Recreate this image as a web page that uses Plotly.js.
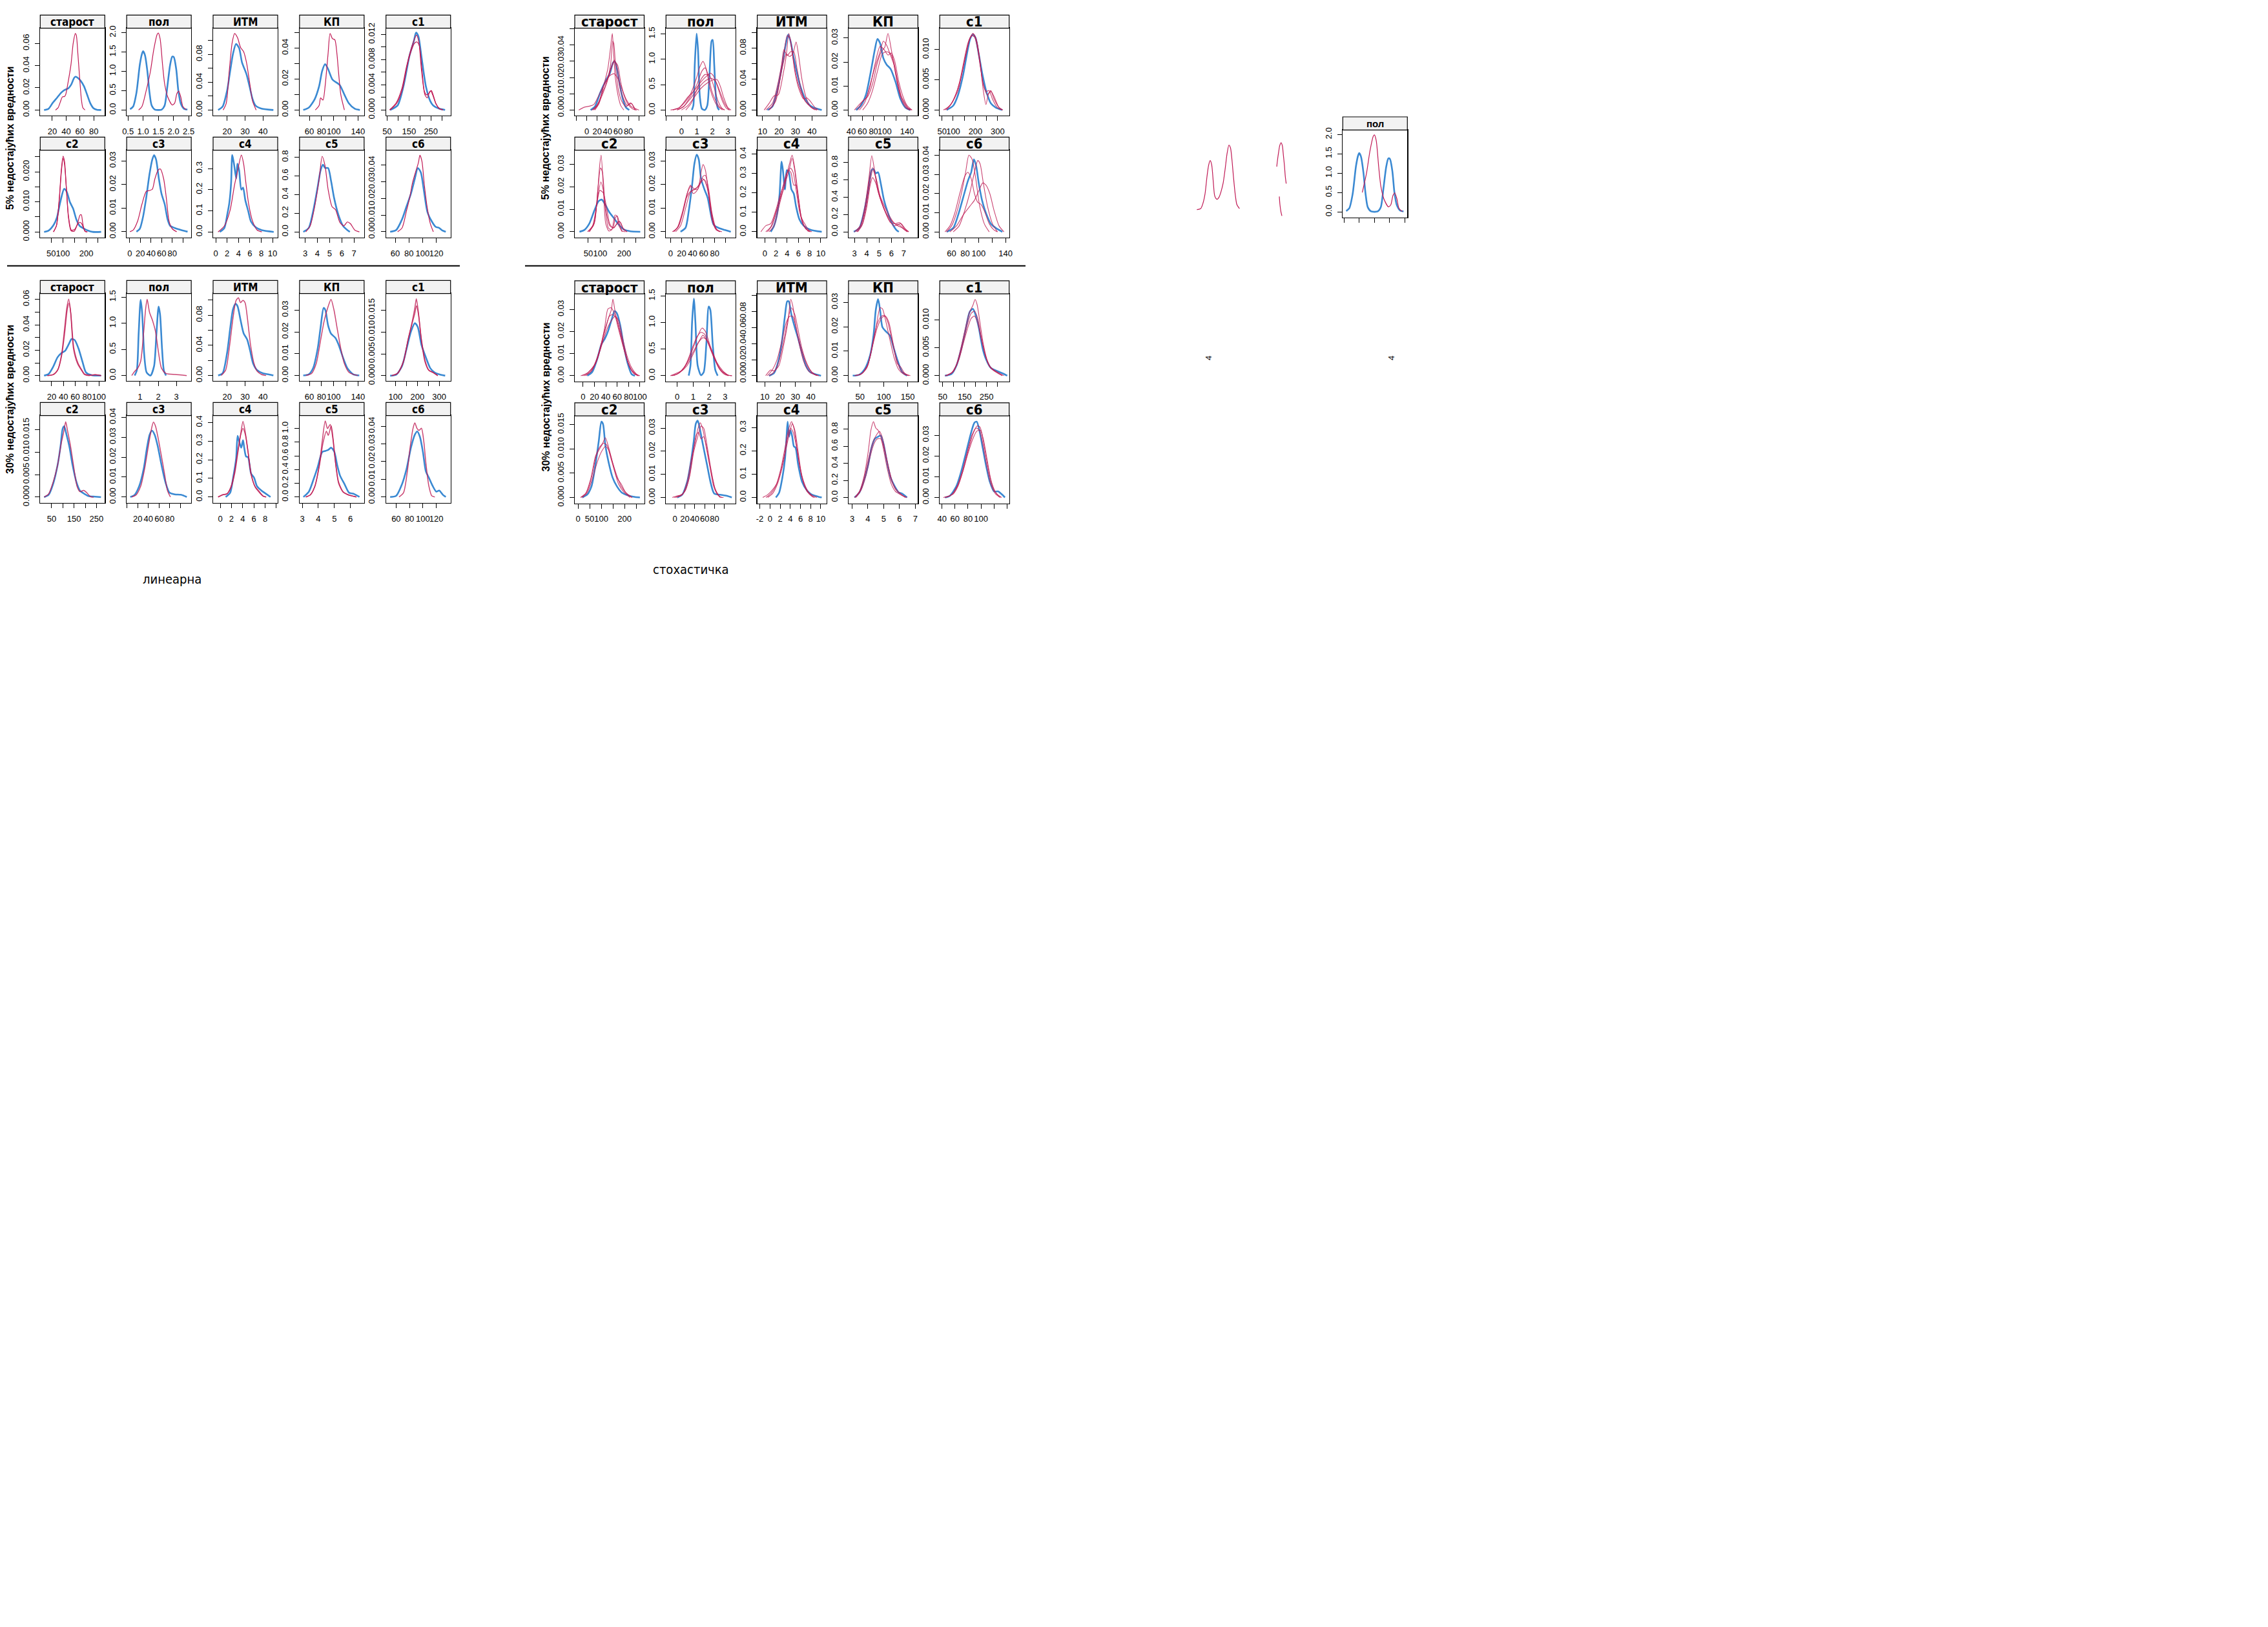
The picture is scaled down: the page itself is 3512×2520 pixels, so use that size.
<!DOCTYPE html>
<html><head><meta charset="utf-8">
<script src="https://cdn.plot.ly/plotly-3.0.1.min.js"></script>
<style>html,body{margin:0;padding:0;background:#fff;}#chart{width:3512px;height:2520px;}</style>
</head><body><div id="chart"></div>
<script>
// ===== panel names =====
const panelTitles = ['старост','пол','ИТМ','КП','c1','c2','c3','c4','c5','c6'];
const rowTitles = ['5% недостајућих вредности','30% недостајућих вредности'];
const methodNames = ['линеарна','стохастичка'];

// ===== LINEAR, 5% missing =====
const lin5_starost_blue=[[8.2,0],[14.4,0.001],[20.6,0.0064],[26.8,0.011],[33,0.0157],[37.7,0.018],[43.3,0.0196],[47,0.0225],[51.7,0.029],[53.9,0.030],[57,0.0288],[61,0.0263],[65.7,0.0215],[70.4,0.0137],[75,0.006],[79.7,0.0015],[84.4,0.0002],[90.6,0]];
const lin5_starost_red=[[[24.7,0],[28.4,0.002],[31.5,0.007],[34.6,0.0118],[37.7,0.0122],[39.3,0.0137],[42.4,0.0234],[47,0.0408],[50.2,0.060],[53.3,0.0689],[54.8,0.067],[57,0.0505],[59.5,0.0292],[62,0.0099],[64.2,0.002],[67.3,0]]];
const lin5_pol_blue=[[0.57,0.02],[0.67,0.09],[0.78,0.45],[0.89,1.17],[0.96,1.45],[1.0,1.52],[1.06,1.42],[1.14,1.0],[1.21,0.45],[1.28,0.12],[1.39,0.01],[1.5,0],[1.61,0.01],[1.71,0.12],[1.8,0.62],[1.89,1.17],[1.96,1.38],[2.01,1.37],[2.09,1.06],[2.16,0.5],[2.24,0.17],[2.35,0.03],[2.46,0.01]];
const lin5_pol_red=[[[0.85,0],[0.96,0.09],[1.1,0.5],[1.24,1.0],[1.35,1.56],[1.46,1.95],[1.5,1.99],[1.56,1.84],[1.64,1.17],[1.71,0.67],[1.81,0.34],[1.96,0.13],[2.04,0.18],[2.11,0.42],[2.17,0.49],[2.24,0.34],[2.31,0.09],[2.42,0.01]]];
const lin5_itm_blue=[[15,0],[17.5,0.005],[20,0.028],[21.7,0.056],[23.3,0.081],[25,0.095],[26.7,0.089],[28.3,0.0685],[30.8,0.0515],[32.5,0.034],[34.2,0.0158],[35.8,0.0065],[39.2,0.002],[45.8,0]];
const lin5_itm_red=[[[17.8,0],[19.5,0.0096],[21.2,0.056],[22.8,0.0964],[24.2,0.110],[25.8,0.104],[27.5,0.090],[29.2,0.084],[30.8,0.0685],[32.5,0.0406],[34.2,0.0127],[36.2,0]]];
const lin5_kp_blue=[[50,0],[59,0.0015],[68.8,0.007],[76.1,0.0154],[81,0.0251],[85.9,0.0296],[90.7,0.0265],[98,0.0196],[105.4,0.0175],[110.2,0.016],[117.6,0.0099],[124.9,0.0043],[134.6,0.0008],[143,0]];
const lin5_kp_red=[[[69.8,0],[76.1,0.003],[78.5,0.0078],[82.4,0.0064],[85.9,0.0154],[90.7,0.036],[94.1,0.0494],[98,0.046],[101.9,0.0453],[105.4,0.036],[107.8,0.0251],[111.7,0.0099],[117.6,0]]];
const lin5_c1_blue=[[63.6,0],[97.6,0.0007],[124.8,0.0038],[152,0.0086],[172.4,0.011],[182,0.0123],[192.8,0.0117],[206.4,0.0086],[226.8,0.0038],[247.2,0.0014],[260.8,0.0007],[288,0.0002],[315,0]];
const lin5_c1_red=[[[61,0],[91,0.0011],[118,0.0035],[138.4,0.0069],[158.8,0.0096],[172,0.011],[184,0.0119],[195,0.0108],[206.4,0.0065],[222.7,0.0024],[233.6,0.0019],[244.5,0.0029],[250,0.003],[258,0.0024],[271.7,0.0011],[288,0.0002],[304,0]],[[63,0],[93,0.001],[120,0.0033],[140,0.0068],[160,0.0094],[175,0.0106],[186,0.0108],[197,0.0102],[208,0.0068],[220,0.003],[230,0.0024],[240,0.0026],[252,0.0031],[262,0.0022],[274,0.0009],[290,0.0002],[306,0]]];
const lin5_c2_blue=[[19.6,0],[38,0.0004],[61,0.0024],[74.9,0.0049],[88.7,0.0099],[105.3,0.0143],[116.3,0.0134],[130.1,0.0099],[144,0.0077],[157.8,0.0041],[171.6,0.002],[190,0.0011],[208.4,0.0004],[226.8,0],[263.7,0]];
const lin5_c2_red=[[[59.2,0],[72.1,0.002],[84,0.0106],[93.3,0.0206],[100.7,0.0252],[107.1,0.0234],[114.5,0.0149],[123.7,0.0049],[134.7,0.0004],[148.5,0.0002],[162.4,0.0027],[173.4,0.0056],[179,0.0057],[185.4,0.0027],[194.6,0.0002],[203.8,0]],[[60,0],[73,0.0022],[85,0.011],[94,0.0205],[101,0.0245],[107,0.0225],[115,0.0145],[124,0.0052],[136,0.0006],[150,0.0008],[163,0.0025],[172,0.0032],[180,0.0028],[187,0.0015],[196,0.0002],[205,0]]];
const lin5_c3_blue=[[12.7,0],[18.9,0.0012],[25,0.0062],[31.1,0.0144],[37.3,0.0244],[42.6,0.0307],[45.9,0.0325],[49.6,0.0307],[54.9,0.0225],[59.8,0.0162],[66,0.0116],[71.3,0.0053],[76.2,0.0025],[84.4,0.0016],[96.7,0.0007],[109,0]];
const lin5_c3_red=[[[0.4,0],[6.6,0.0007],[14.8,0.0044],[23,0.0116],[31.1,0.0171],[37.3,0.0175],[42.6,0.018],[47.5,0.0225],[53.7,0.0262],[57.8,0.0266],[63.9,0.0225],[68.9,0.0144],[74.2,0.0044],[80.3,0.0012],[88.5,0]]];
const lin5_c4_blue=[[0.7,0],[1.5,0.018],[2,0.079],[2.4,0.14],[2.7,0.232],[2.9,0.364],[3.2,0.323],[3.6,0.252],[3.8,0.323],[4.1,0.293],[4.5,0.2],[4.8,0.21],[5.2,0.15],[5.7,0.1],[6.2,0.049],[7,0.023],[8.1,0.008],[10.2,0]];
const lin5_c4_red=[[[0.4,0],[1.5,0.028],[2.5,0.1],[3.3,0.222],[3.8,0.283],[4.5,0.364],[4.9,0.323],[5.3,0.232],[5.8,0.13],[6.5,0.049],[7.3,0.008],[8.1,0]]];
const lin5_c5_blue=[[2.85,0],[3.29,0.041],[3.66,0.225],[4.02,0.478],[4.27,0.662],[4.46,0.72],[4.63,0.685],[4.88,0.685],[5.12,0.547],[5.37,0.363],[5.73,0.179],[6.1,0.064],[6.46,0.018],[6.66,0]];
const lin5_c5_red=[[[3.05,0],[3.41,0.064],[3.78,0.271],[4.15,0.57],[4.39,0.811],[4.63,0.708],[4.88,0.455],[5.2,0.271],[5.49,0.237],[5.85,0.099],[6.17,0.064],[6.46,0.106],[6.71,0.087],[7.07,0.018],[7.44,0]]];
const lin5_c6_blue=[[52.6,0],[61.3,0.001],[70,0.0075],[76.5,0.0152],[83,0.0229],[88.7,0.0319],[93,0.0383],[97.4,0.0357],[101.7,0.0254],[107,0.012],[113.5,0.0062],[119.1,0.003],[124.3,0.0023],[128.7,0.0008],[133.9,0]];
const lin5_c6_red=[[[63.5,0],[70,0.0023],[76.5,0.0126],[81.7,0.0216],[85.2,0.0293],[89.6,0.0357],[93.9,0.0415],[96.1,0.046],[99.1,0.0422],[102.6,0.028],[107,0.0139],[111.3,0.0049],[115.7,0]]];

// ===== LINEAR, 30% missing =====
const lin30_starost_blue=[[7.3,0],[14.9,0.0012],[22.5,0.0068],[30.1,0.0144],[36.7,0.0178],[42.8,0.0195],[48.9,0.0246],[53.9,0.0288],[59,0.028],[65.6,0.0212],[72.2,0.011],[78.2,0.0025],[88.4,0.0003],[103.5,0]];
const lin30_starost_red=[[[12.4,0],[22.5,0.0008],[30.1,0.0042],[36.7,0.0161],[41.8,0.0364],[45.8,0.0534],[48.9,0.0602],[51.9,0.0517],[57,0.0212],[64,0.0093],[70.6,0.0042],[75.7,0.0008],[83.3,0],[93.4,0.0008],[103.5,0]],[[14,0],[24,0.001],[31,0.005],[37.5,0.017],[42.5,0.035],[46.5,0.052],[49.5,0.057],[52.5,0.049],[57.5,0.022],[64.5,0.01],[71,0.0045],[76,0.0012],[84,0.0004],[95,0.0006],[104,0]]];
const lin30_pol_blue=[[0.7,0],[0.82,0.1],[0.92,0.8],[1.03,1.45],[1.11,1.21],[1.23,0.39],[1.36,0.06],[1.57,0],[1.77,0.18],[1.9,0.8],[2.02,1.32],[2.1,1.17],[2.21,0.51],[2.31,0.1],[2.43,0]];
const lin30_pol_red=[[[0.54,0],[0.7,0.08],[0.87,0.14],[1.03,0.27],[1.2,0.84],[1.31,1.29],[1.39,1.46],[1.52,1.21],[1.69,1.05],[1.85,0.84],[2.02,0.43],[2.18,0.14],[2.43,0.04],[2.92,0.02],[3.57,0]]];
const lin30_itm_blue=[[15,0],[17.5,0.003],[20,0.03],[21.7,0.062],[23.3,0.088],[24.7,0.095],[25.8,0.092],[27.5,0.0735],[29.2,0.056],[31.2,0.0476],[32.8,0.0332],[34.5,0.0159],[36.7,0.0072],[40,0.0029],[43.3,0.0014],[45.8,0]];
const lin30_itm_red=[[[16.7,0],[19.2,0.0072],[21.2,0.036],[23.3,0.0764],[25,0.0995],[26.3,0.103],[27.5,0.0966],[28.8,0.0995],[30,0.0966],[31.3,0.0764],[33,0.0418],[35,0.0159],[36.7,0.0058],[39.2,0.0014],[41.7,0]]];
const lin30_kp_blue=[[50,0],[59,0.0005],[66.3,0.0034],[73.7,0.0123],[78.5,0.0221],[83.4,0.031],[86.3,0.03],[90.7,0.0231],[95.6,0.0192],[102.9,0.0172],[107.8,0.0143],[115.1,0.0084],[122.4,0.0034],[132.2,0.0005],[142,0]];
const lin30_kp_red=[[[54.1,0],[63.9,0.001],[71.2,0.0054],[78.5,0.0162],[84.4,0.0251],[90.7,0.0315],[95.6,0.0349],[100.5,0.03],[105.4,0.0221],[111.7,0.0123],[117.6,0.0054],[124.9,0.0015],[132.2,0.0005],[139.5,0]]];
const lin30_c1_blue=[[75.5,0],[102.7,0.0002],[129.9,0.0022],[150.3,0.0061],[170.7,0.0101],[188.4,0.012],[202,0.0111],[218.3,0.0071],[238.7,0.0042],[259.1,0.0017],[279.5,0.0007],[306.7,0.0002],[327,0]];
const lin30_c1_red=[[[82.3,0],[109.5,0.0005],[136.7,0.0032],[157.1,0.0081],[174.8,0.012],[188.4,0.0155],[195.2,0.0176],[204.7,0.0145],[218.3,0.0081],[234.6,0.0032],[252.3,0.0012],[272.7,0.0007],[293,0]],[[82,0],[110,0.0006],[137,0.0034],[157,0.0082],[175,0.0118],[188,0.0142],[196,0.016],[205,0.014],[218,0.0085],[235,0.0035],[252,0.0013],[273,0.0007],[293,0]]];
const lin30_c2_blue=[[16.7,0],[36.7,0.0005],[56.7,0.0029],[76.7,0.0071],[90,0.0114],[99.3,0.0152],[106,0.0157],[116.7,0.0138],[130,0.011],[143.3,0.0071],[160.7,0.0033],[176.7,0.0014],[196.7,0.0007],[216.7,0.0002],[243.3,0.0001],[270,0]];
const lin30_c2_red=[[[16.7,0],[36.7,0.0007],[56.7,0.0033],[76.7,0.0071],[92.7,0.0119],[103.3,0.0143],[112.7,0.0167],[120.7,0.0148],[134,0.0114],[147.3,0.0071],[163.3,0.0024],[176.7,0.0012],[192.7,0.0015],[206,0.001],[223.3,0.0001],[236.7,0]]];
const lin30_c3_blue=[[6.1,0],[14.4,0.0011],[22.8,0.0054],[31.1,0.014],[36.7,0.0237],[42.2,0.0312],[46.7,0.0333],[51.7,0.0312],[57.2,0.0258],[64.4,0.0161],[71.7,0.0075],[79.4,0.0022],[89.4,0.0013],[100.6,0.0011],[111.7,0]];
const lin30_c3_red=[[[8.9,0],[17.2,0.0011],[25.6,0.0054],[32.8,0.014],[39.4,0.0247],[45,0.0333],[49.4,0.0376],[53.3,0.0355],[57.8,0.0301],[64.4,0.0204],[70,0.0118],[75.6,0.0032],[81.1,0]]];
const lin30_c4_blue=[[0.96,0],[1.76,0.023],[2.29,0.103],[2.83,0.207],[3.09,0.328],[3.36,0.299],[3.73,0.264],[4.05,0.305],[4.27,0.264],[4.59,0.218],[4.96,0.213],[5.49,0.126],[6.03,0.103],[6.56,0.057],[7.36,0.034],[8.16,0.017],[8.96,0]];
const lin30_c4_red=[[[-0.37,0],[0.43,0.011],[1.23,0.017],[1.92,0.057],[2.56,0.138],[3.09,0.241],[3.63,0.333],[4.05,0.368],[4.48,0.333],[4.96,0.241],[5.49,0.126],[6.19,0.057],[6.83,0.034],[7.63,0.006],[8.16,0]],[[-0.4,0],[0.4,0.012],[1.2,0.018],[1.9,0.05],[2.6,0.13],[3.1,0.23],[3.6,0.33],[4.05,0.405],[4.5,0.34],[5.0,0.23],[5.5,0.12],[6.2,0.055],[6.8,0.03],[7.6,0.005],[8.2,0]]];
const lin30_c5_blue=[[3.07,0],[3.41,0.078],[3.69,0.25],[3.96,0.4375],[4.24,0.656],[4.43,0.672],[4.61,0.6875],[4.8,0.72],[5,0.656],[5.17,0.469],[5.35,0.3125],[5.63,0.1875],[5.91,0.0625],[6.19,0.047],[6.56,0]];
const lin30_c5_red=[[[3.22,0],[3.5,0.031],[3.78,0.156],[4.06,0.469],[4.24,0.8125],[4.43,1.11],[4.57,1.0],[4.74,1.06],[4.89,0.875],[5.07,0.5],[5.26,0.219],[5.54,0.078],[5.81,0.0375],[6.09,0.016],[6.37,0]],[[3.22,0],[3.5,0.03],[3.78,0.15],[4.06,0.45],[4.3,0.8],[4.5,0.96],[4.62,0.9],[4.8,1.04],[4.92,0.85],[5.08,0.48],[5.26,0.2],[5.54,0.07],[5.81,0.035],[6.09,0.015],[6.37,0]]];
const lin30_c6_blue=[[51.1,0],[60,0.0006],[68.9,0.0073],[75.6,0.0158],[82.2,0.0279],[88,0.0352],[91.6,0.037],[95.6,0.0339],[100,0.0255],[104.4,0.0145],[108.9,0.0109],[114.7,0.0061],[120,0.003],[124.4,0.0036],[129.8,0.0012],[134.2,0]];
const lin30_c6_red=[[[64.4,0],[71.1,0.0024],[76.4,0.0133],[80.9,0.0279],[85.3,0.0388],[88,0.0418],[91.1,0.0388],[94.2,0.0376],[97.8,0.0388],[101.3,0.0315],[104.4,0.0194],[108.9,0.0061],[113.3,0.0006],[117.8,0]]];

// ===== STOCHASTIC, 5% missing =====
const sto5_starost_blue=[[7.4,0],[15.7,0.0021],[26,0.0107],[36.3,0.0179],[44.5,0.0226],[50.7,0.0292],[54,0.0298],[58.1,0.0252],[63.1,0.016],[69.3,0.0067],[75.5,0.0015],[81.6,0]];
const sto5_starost_red=[
[[9.5,0],[15.7,0.0015],[23.9,0.0054],[32.2,0.0146],[40.4,0.0252],[45.8,0.0384],[49.1,0.047],[51.5,0.0358],[54.8,0.0199],[59.8,0.0094],[65.2,0.0028],[71.3,0]],
[[-15.3,0],[-4.9,0.0017],[5.4,0.0024],[13.6,0.0034],[23.9,0.0094],[34.2,0.016],[44.5,0.0212],[52.8,0.0223],[59,0.0199],[67.2,0.0133],[75.5,0.0067],[85.8,0.0021],[100.2,0]],
[[11.5,0],[19.8,0.0028],[30.1,0.0107],[38.4,0.0173],[45.8,0.0278],[49.9,0.0423],[52,0.041],[55.7,0.0252],[61,0.012],[67.2,0.0054],[75.5,0.0021],[83.7,0.0044],[88.7,0.0028],[94,0]],
[[15.7,0],[23.9,0.0041],[32.2,0.0146],[40.4,0.0199],[48.7,0.0278],[52.8,0.0307],[58.1,0.0265],[63.1,0.0146],[69.3,0.008],[77.5,0.0028],[85.8,0.0041],[92,0]],
[[13.6,0],[21.9,0.0034],[30.1,0.0094],[38.4,0.0166],[46.6,0.0252],[52.8,0.0298],[59,0.0278],[65.2,0.0173],[71.3,0.0094],[79.6,0.0034],[87.8,0.0008],[96.1,0]]];
const sto5_pol_blue=[[0.67,0],[0.77,0.089],[0.86,0.89],[0.98,1.508],[1.07,1.19],[1.19,0.258],[1.32,0.025],[1.51,0],[1.67,0.089],[1.81,0.68],[1.95,1.36],[2.02,1.38],[2.12,0.89],[2.23,0.258],[2.34,0.047],[2.44,0]];
const sto5_pol_red=[
[[-0.56,0],[-0.14,0.047],[0.28,0.174],[0.63,0.343],[0.98,0.64],[1.19,0.852],[1.39,0.958],[1.6,0.81],[1.81,0.47],[2.02,0.258],[2.3,0.089],[2.65,0]],
[[-0.28,0],[0.14,0.068],[0.56,0.258],[0.98,0.49],[1.32,0.767],[1.53,0.83],[1.74,0.68],[1.95,0.385],[2.23,0.174],[2.51,0.047],[2.79,0]],
[[-0.7,0],[-0.14,0.047],[0.42,0.258],[0.84,0.385],[1.26,0.555],[1.67,0.68],[1.88,0.725],[2.09,0.66],[2.37,0.428],[2.65,0.174],[2.93,0.025],[3.14,0]],
[[-0.28,0],[0.14,0.068],[0.56,0.216],[0.98,0.385],[1.32,0.513],[1.67,0.6],[1.98,0.62],[2.23,0.555],[2.51,0.343],[2.79,0.131],[3.07,0]],
[[0.28,0],[0.63,0.131],[0.98,0.385],[1.26,0.6],[1.53,0.7],[1.81,0.68],[2.09,0.47],[2.37,0.174],[2.65,0.025],[2.79,0]],
[[0,0],[0.42,0.089],[0.84,0.258],[1.26,0.428],[1.67,0.534],[2.02,0.59],[2.3,0.6],[2.51,0.47],[2.72,0.258],[3.0,0.047],[3.21,0]]];
const sto5_itm_blue=[[13,0],[16,0.0044],[19,0.0253],[22,0.0586],[24,0.0836],[25.6,0.0975],[27,0.0892],[29,0.067],[31,0.0475],[33,0.0308],[36,0.0142],[39,0.0058],[43,0.0017],[46,0]];
const sto5_itm_red=[
[[11,0],[14,0.0086],[17,0.0183],[19.6,0.0197],[22.4,0.0447],[24.4,0.0697],[26,0.0989],[27.6,0.0808],[29.6,0.0503],[32,0.028],[35,0.0142],[37,0.0156],[39,0.0114],[42,0.0031],[44,0]],
[[14,0],[17,0.0086],[20,0.0336],[22.4,0.0586],[24.4,0.0725],[26.4,0.0692],[28.4,0.0725],[30.4,0.0878],[32,0.0697],[34,0.0392],[36.4,0.0169],[39,0.0044],[42,0]],
[[12,0],[16,0.0086],[19,0.0308],[21.6,0.0586],[23,0.078],[25,0.0703],[27,0.0753],[29,0.0753],[31,0.053],[33.6,0.0253],[36,0.0114],[40,0.0031],[43,0]],
[[14,0],[18,0.0114],[21,0.0447],[23,0.0725],[25,0.0961],[26.6,0.0933],[28.4,0.0697],[30.4,0.0447],[33,0.0253],[36,0.0114],[40,0.0031],[43,0]]];
const sto5_kp_blue=[[48.8,0],[57.6,0.0019],[66.5,0.0064],[75.3,0.0162],[82.4,0.0252],[87.1,0.0296],[91.8,0.0278],[97.6,0.0216],[103.5,0.0189],[110.6,0.0171],[119.4,0.0117],[128.2,0.0046],[137.1,0.001],[145.9,0]];
const sto5_kp_red=[
[[51.8,0],[60.6,0.0037],[69.4,0.0055],[78.2,0.0108],[87.1,0.0198],[94.1,0.0243],[100,0.0261],[105.9,0.0319],[111.8,0.0252],[119.4,0.0153],[128.2,0.0064],[134.1,0.0037],[141.2,0.001],[148.8,0]],
[[45.9,0],[56.5,0.0028],[66.5,0.005],[75.3,0.0117],[84.1,0.0189],[91.8,0.0243],[97.6,0.0287],[103.5,0.027],[109.4,0.0234],[116.5,0.0189],[123.5,0.0099],[131.2,0.0037],[140,0.0005],[145.9,0]],
[[54.7,0],[63.5,0.0028],[74.1,0.0099],[82.4,0.0189],[91.8,0.0265],[98.8,0.0252],[105.9,0.0229],[111.8,0.0238],[117.6,0.0207],[125.3,0.0117],[132.9,0.0055],[140,0.0019],[148.8,0]],
[[60.6,0],[69.4,0.0028],[78.2,0.0081],[87.1,0.0162],[95.9,0.0234],[103.5,0.0243],[110.6,0.0234],[116.5,0.0198],[123.5,0.0117],[131.2,0.0046],[140,0.001],[145.9,0]]];
const sto5_c1_blue=[[70.6,0],[100,0.0007],[122,0.0025],[144,0.0057],[161.8,0.0093],[176.5,0.0118],[188.2,0.0125],[200,0.012],[214.7,0.0093],[232.4,0.0057],[250,0.0029],[269.1,0.0011],[291.2,0.0004],[320.6,0]];
const sto5_c1_red=[
[[55.9,0],[85.3,0.0007],[114.7,0.0029],[136.8,0.0057],[155.9,0.0089],[173.5,0.0116],[188.2,0.0127],[202.9,0.0118],[217.6,0.0089],[232.4,0.0047],[247.1,0.0031],[261.8,0.0032],[276.5,0.0018],[298.5,0.0004],[320.6,0]],
[[63.2,0],[92.6,0.0011],[122,0.0032],[141.2,0.0064],[158.8,0.0096],[176.5,0.012],[192.6,0.0125],[207.4,0.0111],[222,0.0075],[235.3,0.0032],[247.1,0.0009],[258.8,0.0027],[269.1,0.0032],[283.8,0.0018],[305.9,0.0004],[323.5,0]],
[[70.6,0],[100,0.0015],[126.5,0.0043],[147.1,0.0079],[166.2,0.0111],[182.4,0.0123],[195.6,0.0121],[210.3,0.01],[225,0.0064],[239.7,0.0036],[254.4,0.0025],[269.1,0.0031],[283.8,0.0022],[302.9,0.0006],[320.6,0]]];
const sto5_c2_blue=[[13.2,0],[33.9,0.0008],[54.5,0.0036],[75.2,0.0093],[93.1,0.0136],[106.9,0.0143],[120.7,0.0122],[137.2,0.0089],[157.9,0.006],[178.5,0.0031],[199.2,0.001],[226.7,0.0002],[268,0]];
const sto5_c2_red=[
[[54.5,0],[75.2,0.0036],[89,0.017],[98.6,0.0303],[104.1,0.0341],[112.4,0.0217],[123.4,0.0036],[137.2,0.0003],[153.7,0.0017],[164.7,0.0065],[171.6,0.007],[181.3,0.0036],[192.3,0.0003],[206,0]],
[[47.7,0],[71.1,0.0027],[89,0.015],[102.8,0.0222],[112.4,0.0189],[126.2,0.0084],[139.9,0.0027],[157.9,0.0017],[175.8,0.0046],[185.4,0.0041],[199.2,0.0008],[213,0]],
[[47.7,0],[68.3,0.0027],[85.9,0.0122],[98.6,0.0184],[112.4,0.0174],[126.2,0.0112],[139.9,0.0036],[153.7,0.0017],[167.5,0.0031],[181.3,0.0046],[195,0.0017],[213,0]],
[[54.5,0],[76.6,0.0046],[90.4,0.0189],[101.4,0.0284],[109.6,0.0265],[120.7,0.0112],[134.4,0.0017],[148.2,0.0008],[162,0.0074],[170.3,0.007],[178.5,0.0027],[192.3,0]]];
const sto5_c3_blue=[[18,0],[27,0.0016],[33,0.0089],[39,0.0198],[43.2,0.0289],[47.4,0.0327],[51.1,0.0307],[55.3,0.0225],[61.3,0.018],[67.3,0.0144],[73.3,0.0071],[78.1,0.003],[87.1,0.0016],[99.1,0.0007],[109.3,0]];
const sto5_c3_red=[
[[3,0],[12,0.0016],[21,0.008],[30,0.0162],[37.2,0.0194],[43.2,0.018],[49.2,0.018],[55.3,0.0253],[58.9,0.0285],[63.1,0.0262],[69.1,0.0162],[75.1,0.0053],[82.9,0.0007],[90.1,0]],
[[6,0],[15,0.0025],[24,0.0098],[31.2,0.0171],[36,0.0198],[40.8,0.0162],[46.8,0.0171],[52.9,0.0198],[58.9,0.0235],[63.1,0.0239],[69.1,0.018],[75.1,0.008],[82.9,0.0012],[90.1,0]],
[[4.8,0],[13.2,0.0021],[21,0.0071],[28.8,0.0144],[36,0.0171],[45,0.018],[54.1,0.0207],[60.1,0.0221],[66.1,0.0189],[72.1,0.0107],[78.1,0.0035],[85.3,0.0007],[93.1,0]],
[[9,0],[18,0.0025],[27,0.0098],[34.8,0.0162],[42,0.018],[49.2,0.0189],[57.1,0.0225],[63.1,0.0216],[69.1,0.0162],[75.1,0.0071],[81.1,0.0016],[88.9,0]]];
const sto5_c4_blue=[[1.06,0],[1.65,0.031],[2.24,0.097],[2.65,0.196],[3,0.361],[3.24,0.317],[3.59,0.218],[3.94,0.317],[4.29,0.306],[4.76,0.218],[5.18,0.196],[5.59,0.13],[6.18,0.064],[6.94,0.031],[8.12,0.011],[10.18,0]];
const sto5_c4_red=[
[[-0.7,0],[0.18,0.031],[1.06,0.042],[1.94,0.108],[2.82,0.196],[3.71,0.273],[4.41,0.35],[4.88,0.394],[5.35,0.328],[5.94,0.196],[6.53,0.075],[7.24,0.02],[8.12,0]],
[[0.18,0],[1.06,0.025],[1.94,0.097],[2.82,0.174],[3.59,0.24],[4.18,0.317],[4.65,0.306],[5.18,0.24],[5.59,0.24],[6.06,0.163],[6.53,0.075],[7.12,0.042],[7.82,0.009],[8.41,0]],
[[0.47,0],[1.35,0.036],[2.24,0.119],[3.12,0.218],[3.82,0.295],[4.41,0.328],[4.88,0.378],[5.35,0.317],[5.94,0.174],[6.65,0.053],[7.35,0.014],[8.12,0]],
[[0.76,0],[1.65,0.031],[2.53,0.13],[3.41,0.229],[4,0.284],[4.59,0.328],[5.06,0.306],[5.59,0.218],[6.18,0.108],[6.94,0.036],[7.82,0]]];
const sto5_c5_blue=[[2.95,0],[3.4,0.045],[3.8,0.243],[4.12,0.49],[4.39,0.713],[4.55,0.725],[4.73,0.676],[4.92,0.688],[5.13,0.564],[5.4,0.366],[5.72,0.218],[6.07,0.094],[6.41,0.02],[6.6,0]];
const sto5_c5_red=[
[[3,0],[3.48,0.069],[3.85,0.292],[4.17,0.614],[4.41,0.881],[4.6,0.738],[4.87,0.49],[5.19,0.342],[5.53,0.218],[5.93,0.106],[6.33,0.094],[6.68,0.106],[7,0.045],[7.4,0]],
[[3.13,0],[3.53,0.082],[3.93,0.317],[4.25,0.639],[4.47,0.743],[4.73,0.639],[5,0.441],[5.35,0.292],[5.67,0.193],[6.07,0.119],[6.41,0.082],[6.79,0.094],[7.13,0.032],[7.4,0]],
[[3.27,0],[3.67,0.094],[4.01,0.292],[4.28,0.54],[4.47,0.626],[4.73,0.564],[5.08,0.391],[5.4,0.267],[5.8,0.144],[6.2,0.069],[6.6,0.082],[7,0.032],[7.32,0]],
[[3.21,0],[3.59,0.069],[3.96,0.292],[4.28,0.589],[4.49,0.713],[4.76,0.614],[5.08,0.416],[5.45,0.292],[5.8,0.193],[6.2,0.106],[6.52,0.069],[6.87,0.045],[7.27,0]]];
const sto5_c6_blue=[[52.7,0],[62.4,0.002],[69.7,0.0087],[77,0.0177],[84.2,0.0266],[89.1,0.0311],[93,0.0378],[96.4,0.0344],[100.2,0.0255],[105.1,0.0165],[110.9,0.0098],[118.2,0.0042],[125.5,0.002],[135.2,0]];
const sto5_c6_red=[
[[52.7,0],[60,0.0031],[67.3,0.0098],[74.5,0.0199],[80.8,0.0311],[85.7,0.04],[90.5,0.0378],[95.4,0.0288],[101.2,0.0143],[108.5,0.0042],[115.8,0]],
[[62.4,0],[71.2,0.0031],[79.4,0.011],[86.7,0.0199],[93.9,0.0311],[98.8,0.0372],[102.2,0.0355],[107,0.0255],[113.3,0.0132],[120.6,0.0042],[127.9,0]],
[[50.3,0],[57.6,0.0031],[64.8,0.0098],[72.1,0.0199],[79.4,0.0288],[84.2,0.0311],[89.1,0.0277],[93.9,0.0199],[98.8,0.0154],[103.6,0.0143],[108.5,0.011],[115.8,0.0042],[123,0.0009],[127.9,0]],
[[57.6,0],[67.3,0.0031],[77,0.0087],[86.7,0.0132],[93.9,0.0165],[101.2,0.0221],[106.1,0.0255],[110.9,0.0244],[116.7,0.0199],[123,0.011],[130.3,0.0031],[137.6,0]]];

// ===== STOCHASTIC, 30% missing =====
const sto30_starost_blue=[[7.5,0],[16.2,0.0017],[24.9,0.0075],[32.4,0.0143],[38.2,0.0167],[43.9,0.0201],[50.9,0.0259],[55.5,0.0293],[59.5,0.0283],[65.3,0.023],[71.1,0.0143],[78.6,0.0055],[85.5,0.0007],[91.3,0]];
const sto30_starost_red=[
[[-4,0],[7.5,0.0012],[19.1,0.0046],[27.7,0.0104],[36.4,0.0191],[45.1,0.0264],[49.7,0.0298],[52.6,0.0347],[56.6,0.0288],[63.6,0.0211],[71.1,0.0133],[79.8,0.0055],[88.4,0.0012],[97.1,0]],
[[-1.2,0],[10.4,0.0017],[22,0.0055],[30.6,0.0123],[38.2,0.022],[43.9,0.0303],[49.7,0.0308],[55.5,0.0279],[62.4,0.0211],[69.4,0.0143],[76.9,0.0075],[85.5,0.0026],[97.1,0]],
[[4.6,0],[15,0.0021],[24.9,0.0075],[33.5,0.0143],[42.2,0.0211],[50.9,0.0254],[56.6,0.0269],[62.4,0.025],[69.4,0.0172],[76.9,0.0094],[85.5,0.0036],[94.2,0.0007],[100,0]],
[[1.7,0],[13.3,0.0018],[23.1,0.0065],[32.4,0.0143],[40.5,0.022],[46.2,0.0269],[52,0.0277],[59,0.0259],[65.3,0.0201],[74,0.0104],[82.7,0.0036],[91.3,0.0007],[98.3,0]]];
const sto30_pol_blue=[[0.72,0],[0.83,0.19],[0.93,1.0],[1.04,1.45],[1.14,1.0],[1.28,0.19],[1.49,0.008],[1.66,0.069],[1.82,0.59],[1.97,1.3],[2.07,1.24],[2.22,0.59],[2.38,0.11],[2.53,0]];
const sto30_pol_red=[
[[-0.41,0],[0,0.028],[0.41,0.149],[0.83,0.391],[1.24,0.714],[1.55,0.895],[1.76,0.835],[2.07,0.552],[2.38,0.31],[2.69,0.109],[3.1,0.016],[3.42,0]],
[[-0.41,0],[0.04,0.06],[0.31,0.1],[0.62,0.23],[1.04,0.47],[1.41,0.673],[1.61,0.762],[1.86,0.653],[2.17,0.431],[2.48,0.23],[2.8,0.089],[3.21,0.008],[3.42,0]],
[[-0.31,0],[0.1,0.048],[0.52,0.19],[0.93,0.512],[1.24,0.734],[1.49,0.815],[1.7,0.786],[1.97,0.593],[2.28,0.351],[2.59,0.149],[2.94,0.028],[3.21,0]],
[[-0.21,0],[0.21,0.069],[0.62,0.19],[1.04,0.431],[1.35,0.633],[1.61,0.714],[1.86,0.673],[2.17,0.472],[2.48,0.25],[2.86,0.089],[3.21,0]]];
const sto30_itm_blue=[[12.8,0],[16,0.0032],[19.2,0.0205],[21.3,0.0445],[23.1,0.0739],[24.6,0.0925],[25.6,0.0925],[27.3,0.0765],[29.5,0.0605],[31.6,0.0472],[34.2,0.0285],[36.8,0.0125],[39.6,0.0045],[42.8,0.0019],[46.6,0]];
const sto30_itm_red=[
[[10.6,0],[13.9,0.0072],[16,0.0059],[19.2,0.0125],[22.4,0.0392],[25.2,0.0685],[26.9,0.0952],[28.2,0.0872],[29.9,0.0659],[32.5,0.0392],[35.3,0.0179],[38.5,0.0059],[41.7,0.0019],[44.9,0]],
[[12.8,0],[16,0.0045],[19.2,0.0179],[22.4,0.0445],[25.2,0.0712],[27.3,0.0845],[29.5,0.0765],[31.6,0.0579],[34.2,0.0339],[37.4,0.0152],[40.6,0.0045],[43.8,0]],
[[11.7,0],[14.9,0.0072],[18.1,0.0205],[21.3,0.0445],[23.9,0.0659],[26.1,0.0739],[28.2,0.0739],[30.3,0.0605],[32.9,0.0392],[35.9,0.0205],[38.9,0.0085],[42.3,0.0019],[45.3,0]]];
const sto30_kp_blue=[[34.8,0],[48.6,0.0004],[60.3,0.0028],[71.4,0.0085],[78.3,0.0164],[83.1,0.0269],[87.9,0.0313],[92.1,0.0269],[96.9,0.0199],[103.8,0.0182],[112.8,0.0164],[121,0.0111],[129.3,0.0059],[138.3,0.0015],[148.6,0]];
const sto30_kp_red=[
[[38.3,0],[52.1,0.0006],[64.5,0.0032],[74.1,0.0103],[83.1,0.019],[92.1,0.0278],[96.9,0.0274],[103.8,0.0225],[112.8,0.0146],[122.4,0.0068],[131.4,0.0024],[141.7,0.0006],[152.1,0]],
[[41.7,0],[55.5,0.0011],[67.2,0.005],[76.2,0.0129],[85.2,0.0208],[94.8,0.0243],[101.7,0.0247],[108.6,0.0217],[117.6,0.0138],[126.6,0.0068],[134.8,0.0024],[145.2,0.0006],[155.5,0]],
[[39.7,0],[53.4,0.0008],[65.9,0.0041],[76.2,0.012],[86.6,0.0199],[96.9,0.0239],[103.8,0.0243],[110.7,0.0217],[119.7,0.0129],[128,0.005],[134.8,0.0037],[143.1,0.0011],[152.1,0]]];
const sto30_c1_blue=[[60.4,0],[90.3,0.0003],[112.7,0.0018],[135.1,0.0049],[154.5,0.0083],[172.4,0.0114],[187.3,0.012],[199.3,0.011],[214.2,0.0087],[232.1,0.0049],[247,0.003],[269.4,0.0014],[299.3,0.0008],[329.1,0.0003],[344,0]];
const sto30_c1_red=[
[[60.4,0],[90.3,0.0005],[112.7,0.002],[135.1,0.0053],[154.5,0.0087],[172.4,0.0114],[187.3,0.0126],[197.8,0.0137],[206.7,0.0128],[220.1,0.0095],[235.1,0.0057],[254.5,0.0026],[273.9,0.0012],[299.3,0.0005],[321.6,0]],
[[64.9,0],[94.8,0.0007],[120.1,0.0026],[142.5,0.006],[161.9,0.0091],[179.9,0.0112],[194.8,0.0116],[209.7,0.0103],[224.6,0.0072],[244,0.0037],[261.9,0.0018],[284.3,0.001],[314.2,0.0003],[329.1,0]],
[[67.9,0],[97.8,0.0007],[124.6,0.003],[145.5,0.006],[164.9,0.0087],[179.9,0.0103],[194.8,0.0107],[209.7,0.0095],[224.6,0.0068],[244,0.0037],[264.9,0.0016],[291.7,0.0007],[321.6,0]]];
const sto30_c2_blue=[[18.4,0],[39.7,0.0006],[58.1,0.0023],[75.1,0.0068],[89.2,0.0116],[100.6,0.0156],[107.6,0.0151],[117.6,0.0107],[131.7,0.0072],[148.7,0.0041],[167.1,0.0023],[188.4,0.001],[216.7,0.0004],[245,0.0001],[266.3,0]];
const sto30_c2_red=[
[[11.3,0],[32.6,0.0008],[53.8,0.0037],[75.1,0.0085],[92.1,0.0103],[106.2,0.0112],[117.6,0.0123],[131.7,0.0103],[148.7,0.0072],[167.1,0.0041],[185.5,0.0028],[205.4,0.001],[230.9,0]],
[[11.3,0],[35.4,0.001],[58.1,0.0041],[77.9,0.0085],[96.3,0.0103],[110.5,0.0112],[124.6,0.0107],[138.8,0.0085],[157.2,0.0054],[174.2,0.0028],[195.5,0.0012],[223.8,0]],
[[18.4,0],[39.7,0.001],[60.9,0.0037],[82.2,0.0072],[100.6,0.0094],[117.6,0.0105],[131.7,0.0098],[148.7,0.0072],[167.1,0.0045],[185.5,0.0023],[209.6,0.0008],[233.7,0]]];
const sto30_c3_blue=[[4.7,0],[14.7,0.0012],[24.7,0.0068],[31.3,0.0142],[38,0.0244],[42,0.0318],[46,0.0332],[50,0.03],[56.7,0.0226],[64.7,0.0142],[72.7,0.0058],[79.3,0.0017],[91.3,0.0012],[104.7,0.0007],[114.7,0]];
const sto30_c3_red=[
[[-5.3,0],[4.7,0.0007],[14.7,0.0012],[24.7,0.0068],[32.7,0.0161],[41.3,0.0244],[46.7,0.03],[51.3,0.0323],[56.7,0.0291],[63.3,0.0216],[71.3,0.0123],[78,0.0049],[86,0.0012],[94.7,0]],
[[-2,0],[8,0.0007],[18,0.0021],[28,0.0077],[36.7,0.0198],[43.3,0.0272],[48,0.0281],[52.7,0.0253],[58,0.0263],[64.7,0.0207],[72.7,0.0114],[80.7,0.004],[90,0.0003],[98,0]],
[[1.3,0],[11.3,0.0007],[21.3,0.0031],[30,0.0096],[38,0.0198],[46,0.0263],[52.7,0.0309],[58,0.03],[64.7,0.0226],[72.7,0.0123],[81.3,0.0035],[91.3,0]]];
const sto30_c4_blue=[[1.16,0],[1.81,0.021],[2.45,0.086],[2.97,0.168],[3.29,0.27],[3.48,0.325],[3.74,0.26],[4.06,0.288],[4.39,0.26],[4.71,0.219],[5.03,0.214],[5.55,0.141],[6.32,0.067],[7.29,0.03],[8.26,0.012],[9.55,0.003],[10.19,0]];
const sto30_c4_red=[
[[-1.42,0],[-0.45,0.012],[0.39,0.03],[1.29,0.058],[2.13,0.122],[2.97,0.214],[3.61,0.288],[4.26,0.325],[4.71,0.297],[5.35,0.205],[6.19,0.095],[7.1,0.035],[8.13,0.012],[9.23,0]],
[[-0.77,0],[0.19,0.017],[1.16,0.049],[2.13,0.113],[2.97,0.196],[3.61,0.27],[4.06,0.297],[4.58,0.279],[5.16,0.224],[5.81,0.141],[6.65,0.067],[7.61,0.021],[8.58,0]],
[[-0.45,0],[0.52,0.017],[1.48,0.058],[2.45,0.132],[3.23,0.214],[3.87,0.279],[4.39,0.316],[4.9,0.288],[5.55,0.196],[6.32,0.086],[7.29,0.026],[8.26,0.005],[8.9,0]]];
const sto30_c5_blue=[[3.15,0],[3.46,0.058],[3.77,0.209],[4.02,0.385],[4.23,0.586],[4.44,0.687],[4.65,0.712],[4.81,0.725],[4.98,0.636],[5.19,0.435],[5.44,0.234],[5.69,0.133],[5.96,0.058],[6.17,0.045],[6.48,0]];
const sto30_c5_red=[
[[3.15,0],[3.46,0.07],[3.77,0.259],[4.02,0.536],[4.19,0.787],[4.35,0.888],[4.5,0.813],[4.65,0.787],[4.81,0.712],[5.02,0.536],[5.23,0.335],[5.48,0.158],[5.75,0.07],[6.06,0.033],[6.38,0]],
[[3.19,0],[3.52,0.083],[3.81,0.259],[4.08,0.486],[4.35,0.662],[4.56,0.737],[4.73,0.775],[4.9,0.712],[5.1,0.536],[5.33,0.335],[5.6,0.158],[5.9,0.07],[6.23,0.02],[6.48,0]],
[[3.25,0],[3.56,0.083],[3.88,0.259],[4.15,0.486],[4.4,0.636],[4.6,0.687],[4.81,0.687],[5.02,0.586],[5.23,0.41],[5.48,0.209],[5.75,0.096],[6.06,0.045],[6.38,0]]];
const sto30_c6_blue=[[44.5,0],[52.1,0.0008],[62.2,0.0055],[69.7,0.0127],[77.3,0.022],[84.8,0.0313],[89.9,0.036],[93.4,0.0365],[97.4,0.0324],[102.5,0.0241],[107.5,0.0158],[113.6,0.0075],[120.1,0.0029],[126.6,0.0029],[132.7,0.0013],[136.7,0]];
const sto30_c6_red=[
[[42,0],[51.1,0.0008],[57.1,0.0016],[64.7,0.0055],[72.2,0.0127],[79.8,0.022],[87.4,0.0303],[93.9,0.0344],[98.4,0.0339],[103.5,0.0272],[110,0.0158],[116.6,0.0065],[123.6,0.0019],[131.7,0]],
[[44.5,0],[54.6,0.0013],[63.2,0.0055],[71.2,0.0127],[78.8,0.022],[86.3,0.0303],[92.4,0.0334],[97.4,0.0324],[102.5,0.0262],[108.5,0.0158],[115.1,0.0065],[122.6,0.0016],[130.2,0]],
[[46,0],[56.1,0.0016],[64.7,0.006],[72.2,0.0127],[79.8,0.021],[87.4,0.0282],[93.4,0.0319],[98.9,0.0324],[103.5,0.0282],[109,0.0189],[115.1,0.0086],[121.6,0.0029],[128.7,0]]];

// ===== fragment (partial curves outside the panel grid) =====
const frag_red_a=[[0.954,0.066],[1.081,0.094],[1.152,0.222],[1.223,0.472],[1.287,0.916],[1.344,1.222],[1.394,1.333],[1.443,1.222],[1.493,0.805],[1.536,0.444],[1.578,0.361],[1.628,0.333],[1.685,0.388],[1.749,0.527],[1.82,0.75],[1.89,1.138],[1.947,1.5],[2.011,1.733],[2.061,1.666],[2.11,1.361],[2.16,0.916],[2.217,0.472],[2.274,0.194],[2.359,0.094]];
const frag_red_b=[[3.587,1.177],[3.615,1.361],[3.65,1.555],[3.686,1.722],[3.729,1.794],[3.771,1.722],[3.806,1.472],[3.842,1.194],[3.87,0.916],[3.899,0.738]];
const frag_red_c=[[3.672,0.405],[3.693,0.194],[3.722,0.027],[3.757,-0.095]];

// ===== tick values and labels =====
const lin5_xt=[[20,40,60,80],[0.5,1,1.5,2,2.5],[20,30,40],[60,80,100,120,140],[50,100,150,200,250,300],[50,100,150,200,250],[0,20,40,60,80,100],[0,2,4,6,8,10],[3,4,5,6,7],[60,80,100,120]];
const lin5_xl=[['20','40','60','80'],['0.5','1.0','1.5','2.0','2.5'],['20','30','40'],['60','80','100','','140'],['50','','150','','250',''],['50','100','','200',''],['0','20','40','60','80',''],['0','2','4','6','8','10'],['3','4','5','6','7'],['60','80','100','120']];
const lin5_yt=[[0,0.02,0.04,0.06],[0,0.5,1,1.5,2],[0,0.02,0.04,0.06,0.08,0.1],[0,0.01,0.02,0.03,0.04,0.05],[0,0.002,0.004,0.006,0.008,0.01,0.012],[0,0.005,0.01,0.015,0.02,0.025],[0,0.01,0.02,0.03],[0,0.1,0.2,0.3],[0,0.2,0.4,0.6,0.8],[0,0.01,0.02,0.03,0.04]];
const lin5_yl=[['0.00','0.02','0.04','0.06'],['0.0','0.5','1.0','1.5','2.0'],['0.00','','0.04','','0.08',''],['0.00','','0.02','','0.04',''],['0.000','','0.004','','0.008','','0.012'],['0.000','','0.010','','0.020',''],['0.00','0.01','0.02','0.03'],['0.0','0.1','0.2','0.3'],['0.0','0.2','0.4','0.6','0.8'],['0.00','0.01','0.02','0.03','0.04']];
const lin30_xt=[[20,40,60,80,100],[1,2,3],[20,30,40],[60,80,100,120,140],[100,150,200,250,300],[50,100,150,200,250],[0,20,40,60,80,100],[0,2,4,6,8,10],[3,4,5,6],[60,80,100,120]];
const lin30_xl=[['20','40','60','80','100'],['1','2','3'],['20','30','40'],['60','80','100','','140'],['100','','200','','300'],['50','','150','','250'],['','20','40','60','80',''],['0','2','4','6','8',''],['3','4','5','6'],['60','80','100','120']];
const lin30_yt=[[0,0.01,0.02,0.03,0.04,0.05,0.06],[0,0.5,1,1.5],[0,0.02,0.04,0.06,0.08,0.1],[0,0.01,0.02,0.03],[0,0.005,0.01,0.015],[0,0.005,0.01,0.015],[0,0.01,0.02,0.03,0.04],[0,0.1,0.2,0.3,0.4],[0,0.2,0.4,0.6,0.8,1],[0,0.01,0.02,0.03,0.04]];
const lin30_yl=[['0.00','','0.02','','0.04','','0.06'],['0.0','0.5','1.0','1.5'],['0.00','','0.04','','0.08',''],['0.00','0.01','0.02','0.03'],['0.000','0.005','0.010','0.015'],['0.000','0.005','0.010','0.015'],['0.00','0.01','0.02','0.03','0.04'],['0.0','0.1','0.2','0.3','0.4'],['0.0','0.2','0.4','0.6','0.8','1.0'],['0.00','0.01','0.02','0.03','0.04']];
const sto5_xt=[[-20,0,20,40,60,80,100],[-1,0,1,2,3],[10,20,30,40],[40,60,80,100,120,140],[50,100,150,200,250,300],[50,100,150,200,250],[0,20,40,60,80,100],[0,2,4,6,8,10],[3,4,5,6,7],[60,80,100,120,140]];
const sto5_xl=[['','0','20','40','60','80',''],['','0','1','2','3'],['10','20','30','40'],['40','60','80','100','','140'],['50','100','','200','','300'],['50','100','','200',''],['0','20','40','60','80',''],['0','2','4','6','8','10'],['3','4','5','6','7'],['60','80','100','','140']];
const sto5_yt=[[0,0.01,0.02,0.03,0.04,0.05],[0,0.5,1,1.5],[0,0.02,0.04,0.06,0.08,0.1],[0,0.01,0.02,0.03],[0,0.005,0.01],[0,0.01,0.02,0.03],[0,0.01,0.02,0.03],[0,0.1,0.2,0.3,0.4],[0,0.2,0.4,0.6,0.8],[0,0.01,0.02,0.03,0.04]];
const sto5_yl=[['0.00','0.01','0.02','0.03','0.04',''],['0.0','0.5','1.0','1.5'],['0.00','','0.04','','0.08',''],['0.00','0.01','0.02','0.03'],['0.000','0.005','0.010'],['0.00','0.01','0.02','0.03'],['0.00','0.01','0.02','0.03'],['0.0','0.1','0.2','0.3','0.4'],['0.0','0.2','0.4','0.6','0.8'],['0.00','0.01','0.02','0.03','0.04']];
const sto30_xt=[[0,20,40,60,80,100],[0,1,2,3],[10,20,30,40],[50,100,150],[50,100,150,200,250,300],[0,50,100,150,200,250],[0,20,40,60,80,100],[-2,0,2,4,6,8,10],[3,4,5,6,7],[40,60,80,100,120,140]];
const sto30_xl=[['0','20','40','60','80','100'],['0','1','2','3'],['10','20','30','40'],['50','100','150'],['50','','150','','250',''],['0','50','100','','200',''],['0','20','40','60','80',''],['-2','0','2','4','6','8','10'],['3','4','5','6','7'],['40','60','80','100','','']];
const sto30_yt=[[0,0.01,0.02,0.03],[0,0.5,1,1.5],[0,0.02,0.04,0.06,0.08,0.1],[0,0.01,0.02,0.03],[0,0.005,0.01],[0,0.005,0.01,0.015],[0,0.01,0.02,0.03],[0,0.1,0.2,0.3],[0,0.2,0.4,0.6,0.8],[0,0.01,0.02,0.03]];
const sto30_yl=[['0.00','0.01','0.02','0.03'],['0.0','0.5','1.0','1.5'],['0.00','0.02','0.04','0.06','0.08',''],['0.00','0.01','0.02','0.03'],['0.000','0.005','0.010'],['0.000','0.005','0.010','0.015'],['0.00','0.01','0.02','0.03'],['0.0','0.1','0.2','0.3'],['0.0','0.2','0.4','0.6','0.8'],['0.00','0.01','0.02','0.03']];

// ===== axis ranges (layout) =====
const lin5_xr=[[2.6,95.9],[0.457,2.586],[12.2,48.2],[43.9,150],[44.6,340],[3,279.5],[-5.7,115.9],[-0.47,10.9],[2.54,7.83],[46.5,140.9]];
const lin5_yr=[[-0.005,0.0737],[-0.144,2.117],[-0.008,0.1177],[-0.0036,0.0528],[-0.0009,0.013],[-0.0019,0.0272],[-0.0025,0.0346],[-0.027,0.387],[-0.062,0.876],[-0.0035,0.049]];
const lin30_xr=[[0.8,110],[0.26,3.82],[12.2,48.2],[43.9,150],[56.5,351.7],[-0.7,287],[-0.6,120],[-1.28,10.24],[2.83,6.85],[44.9,141.3]];
const lin30_yr=[[-0.0042,0.0646],[-0.103,1.57],[-0.0072,0.1087],[-0.0025,0.0376],[-0.0012,0.0188],[-0.0013,0.0181],[-0.003,0.0409],[-0.032,0.437],[-0.0875,1.19],[-0.0034,0.046]];
const sto5_xr=[[-22.9,110.2],[-1.0,3.49],[6.8,49],[35.3,159.4],[39.7,351.5],[-6.5,284.4],[-8.4,117.7],[-1.35,11.06],[2.52,8.15],[42.5,145.3]];
const sto5_yr=[[-0.0034,0.0503],[-0.11,1.614],[-0.0072,0.1058],[-0.0023,0.0341],[-0.00093,0.01356],[-0.0026,0.0363],[-0.0025,0.0346],[-0.03,0.42],[-0.067,0.9436],[-0.003,0.0426]];
const sto30_xr=[[-14.5,107.5],[-0.7,3.64],[5.1,50.3],[25.9,171.4],[36.6,353],[-14.2,284.7],[-18,122],[-2.5,11.16],[2.77,7.17],[36.5,143.3]];
const sto30_yr=[[-0.0025,0.0371],[-0.105,1.54],[-0.0069,0.1019],[-0.0023,0.0335],[-0.001,0.0147],[-0.0012,0.0168],[-0.0025,0.0353],[-0.025,0.35],[-0.068,0.956],[-0.0028,0.0393]];

// ===== build =====
const W=3512,H=2520;
const BLUE='#3A89D2', RED='#C01A55', RED_S='rgba(190,28,84,0.82)';
const TICKFONT={family:'Liberation Sans, Arial, sans-serif',size:13,color:'#000'};
const traces=[], shapes=[], annotations=[];
const layout={width:W,height:H,margin:{l:0,r:0,t:0,b:0},paper_bgcolor:'#fff',plot_bgcolor:'#fff',showlegend:false,hovermode:false,font:{family:'Liberation Sans, Arial, sans-serif'}};
let nAx=0;
function pushCurve(pts,xs,ys,color,width){
  traces.push({type:'scatter',mode:'lines',x:pts.map(p=>p[0]),y:pts.map(p=>p[1]),xaxis:xs,yaxis:ys,
    line:{color:color,width:width,shape:'spline',smoothing:0.7},hoverinfo:'skip',showlegend:false});
}
function addPanel(o){
  nAx++;
  const xs=nAx===1?'x':'x'+nAx, ys=nAx===1?'y':'y'+nAx;
  const xk=nAx===1?'xaxis':'xaxis'+nAx, yk=nAx===1?'yaxis':'yaxis'+nAx;
  const plotTop=o.stripTop+20.3, plotBottom=o.stripTop+155.7;
  layout[xk]={domain:[o.left/W,(o.left+o.width)/W],range:o.xr,anchor:ys,tickmode:'array',tickvals:o.xt,ticktext:o.xl,
    ticks:'outside',ticklen:7,tickwidth:1,tickcolor:'#000',showline:true,mirror:true,linecolor:'#000',linewidth:1.2,
    showgrid:false,zeroline:false,tickangle:0,tickfont:TICKFONT,fixedrange:true,ticklabelstandoff:5};
  layout[yk]={domain:[1-plotBottom/H,1-plotTop/H],range:o.yr,anchor:xs,tickmode:'array',tickvals:o.yt,ticktext:o.yl,
    ticks:'outside',ticklen:7,tickwidth:1,tickcolor:'#000',showline:true,mirror:true,linecolor:'#000',linewidth:1.2,
    showgrid:false,zeroline:false,tickangle:-90,tickfont:TICKFONT,fixedrange:true,ticklabelstandoff:4};
  pushCurve(o.blue,xs,ys,BLUE,2.6);
  o.reds.forEach(r=>pushCurve(r,xs,ys,o.redColor,o.redWidth));
  shapes.push({type:'rect',xref:'paper',yref:'paper',x0:o.left/W,x1:(o.left+o.width)/W,y0:1-plotTop/H,y1:1-o.stripTop/H,
    fillcolor:'#F2F2F2',line:{color:'#000',width:1.2},layer:'above'});
  annotations.push({xref:'paper',yref:'paper',x:(o.left+o.width/2)/W,y:1-(o.stripTop+10.5)/H,xanchor:'center',yanchor:'middle',
    text:'<b>'+o.title+'</b>',showarrow:false,font:o.titleFont});
}
function addGroup(lefts,w,stripTops,blues,reds,xr,yr,xt,xl,yt,yl,titleFont,redColor,redWidth){
  for(let i=0;i<10;i++){
    addPanel({left:lefts[i%5],width:w,stripTop:stripTops[Math.floor(i/5)],title:panelTitles[i],blue:blues[i],reds:reds[i],
      xr:xr[i],yr:yr[i],xt:xt[i],xl:xl[i],yt:yt[i],yl:yl[i],titleFont:titleFont,redColor:redColor,redWidth:redWidth});
  }
}
const linLeft=[62.3,196.15,330,463.85,597.7], linW=100;
const stoLeft=[890,1031.3,1172.6,1313.9,1455.2], stoW=107.5;
const linTitleFont={family:'Liberation Sans Narrow, Arial Narrow, DejaVu Sans Condensed, sans-serif',size:17,color:'#000'};
const stoTitleFont={family:'Liberation Sans Narrow, Arial Narrow, DejaVu Sans Condensed, sans-serif',size:22,color:'#000'};

addGroup(linLeft,linW,[23.3,212.3],
  [lin5_starost_blue,lin5_pol_blue,lin5_itm_blue,lin5_kp_blue,lin5_c1_blue,lin5_c2_blue,lin5_c3_blue,lin5_c4_blue,lin5_c5_blue,lin5_c6_blue],
  [lin5_starost_red,lin5_pol_red,lin5_itm_red,lin5_kp_red,lin5_c1_red,lin5_c2_red,lin5_c3_red,lin5_c4_red,lin5_c5_red,lin5_c6_red],
  lin5_xr,lin5_yr,lin5_xt,lin5_xl,lin5_yt,lin5_yl,linTitleFont,RED,1.2);
addGroup(linLeft,linW,[434.3,623.3],
  [lin30_starost_blue,lin30_pol_blue,lin30_itm_blue,lin30_kp_blue,lin30_c1_blue,lin30_c2_blue,lin30_c3_blue,lin30_c4_blue,lin30_c5_blue,lin30_c6_blue],
  [lin30_starost_red,lin30_pol_red,lin30_itm_red,lin30_kp_red,lin30_c1_red,lin30_c2_red,lin30_c3_red,lin30_c4_red,lin30_c5_red,lin30_c6_red],
  lin30_xr,lin30_yr,lin30_xt,lin30_xl,lin30_yt,lin30_yl,linTitleFont,RED_S,1.5);
addGroup(stoLeft,stoW,[23.3,212.3],
  [sto5_starost_blue,sto5_pol_blue,sto5_itm_blue,sto5_kp_blue,sto5_c1_blue,sto5_c2_blue,sto5_c3_blue,sto5_c4_blue,sto5_c5_blue,sto5_c6_blue],
  [sto5_starost_red,sto5_pol_red,sto5_itm_red,sto5_kp_red,sto5_c1_red,sto5_c2_red,sto5_c3_red,sto5_c4_red,sto5_c5_red,sto5_c6_red],
  sto5_xr,sto5_yr,sto5_xt,sto5_xl,sto5_yt,sto5_yl,stoTitleFont,RED_S,1.1);
addGroup(stoLeft,stoW,[434.8,623.8],
  [sto30_starost_blue,sto30_pol_blue,sto30_itm_blue,sto30_kp_blue,sto30_c1_blue,sto30_c2_blue,sto30_c3_blue,sto30_c4_blue,sto30_c5_blue,sto30_c6_blue],
  [sto30_starost_red,sto30_pol_red,sto30_itm_red,sto30_kp_red,sto30_c1_red,sto30_c2_red,sto30_c3_red,sto30_c4_red,sto30_c5_red,sto30_c6_red],
  sto30_xr,sto30_yr,sto30_xt,sto30_xl,sto30_yt,sto30_yl,stoTitleFont,RED_S,1.1);

// stray "пол" panel (copy of the linear 5% one, partly erased)
addPanel({left:2079.3,width:100,stripTop:181,title:'пол',blue:lin5_pol_blue,reds:[lin5_pol_red[0].filter(p=>p[0]>=1.08)],
  xr:lin5_xr[1],yr:lin5_yr[1],xt:lin5_xt[1],xl:lin5_xt[1].map(()=>''),yt:lin5_yt[1],yl:lin5_yl[1],
  titleFont:{family:'Liberation Sans, Arial, sans-serif',size:15,color:'#000'},redColor:RED,redWidth:1.2});

// stray partial curves (hidden axes)
nAx++;
{
  const xs='x'+nAx, ys='y'+nAx;
  layout['xaxis'+nAx]={domain:[1830/W,2000/W],range:[0.457,4.076],anchor:ys,visible:false,fixedrange:true};
  layout['yaxis'+nAx]={domain:[1-337.3/H,1-201.7/H],range:[-0.144,2.117],anchor:xs,visible:false,fixedrange:true};
  [frag_red_a,frag_red_b,frag_red_c].forEach(c=>pushCurve(c,xs,ys,RED,1.2));
}
annotations.push({xref:'paper',yref:'paper',x:1871/W,y:1-555/H,text:'4',textangle:-90,showarrow:false,font:TICKFONT,xanchor:'center',yanchor:'middle'});
annotations.push({xref:'paper',yref:'paper',x:2154/W,y:1-555/H,text:'4',textangle:-90,showarrow:false,font:TICKFONT,xanchor:'center',yanchor:'middle'});

// row titles
const rowTitleFont={family:'Liberation Sans, Arial, sans-serif',size:16,color:'#000'};
[[15,214,0],[15,619,1],[844.5,199,0],[844.5,615,1]].forEach(a=>{
  annotations.push({xref:'paper',yref:'paper',x:a[0]/W,y:1-a[1]/H,xanchor:'center',yanchor:'middle',textangle:-90,
    text:'<b>'+rowTitles[a[2]]+'</b>',showarrow:false,font:rowTitleFont});
});
// separators
shapes.push({type:'line',xref:'paper',yref:'paper',x0:11/W,x1:712/W,y0:1-411.7/H,y1:1-411.7/H,line:{color:'#000',width:2}});
shapes.push({type:'line',xref:'paper',yref:'paper',x0:813/W,x1:1588/W,y0:1-411.7/H,y1:1-411.7/H,line:{color:'#000',width:2}});
// method captions
const capFont={family:'Liberation Sans Narrow, Arial Narrow, DejaVu Sans Condensed, sans-serif',size:20,color:'#000'};
annotations.push({xref:'paper',yref:'paper',x:266/W,y:1-897/H,text:methodNames[0],showarrow:false,font:capFont,xanchor:'center',yanchor:'middle'});
annotations.push({xref:'paper',yref:'paper',x:1070/W,y:1-882/H,text:methodNames[1],showarrow:false,font:capFont,xanchor:'center',yanchor:'middle'});

layout.shapes=shapes; layout.annotations=annotations;
Plotly.newPlot('chart',traces,layout,{staticPlot:true,displayModeBar:false});
</script></body></html>
